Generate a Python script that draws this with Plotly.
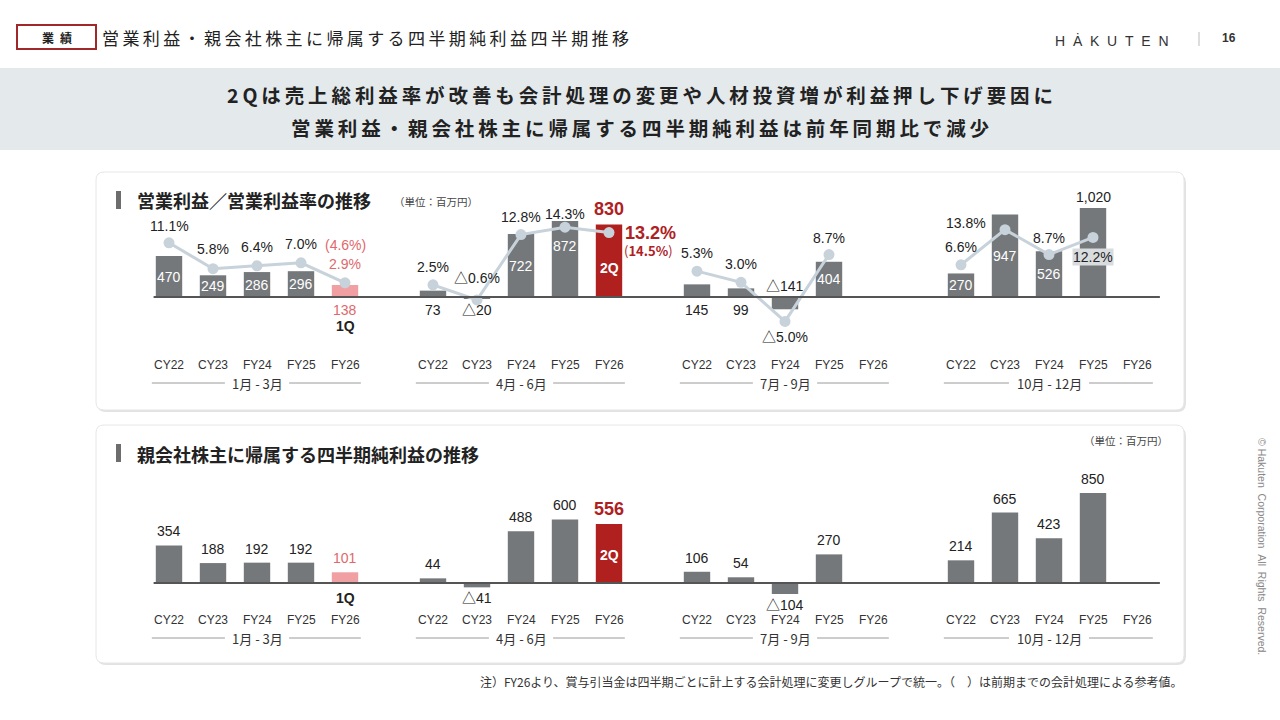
import plotly.graph_objects as go

W, H = 1280, 720

# ---- data (単位：百万円) ----
groups = ["1月 - 3月", "4月 - 6月", "7月 - 9月", "10月 - 12月"]
years = ["CY22", "CY23", "FY24", "FY25", "FY26"]

op_income = [470, 249, 286, 296, 138,
             73, -20, 722, 872, 830,
             145, 99, -141, 404, None,
             270, 947, 526, 1020, None]
op_margin = [11.1, 5.8, 6.4, 7.0, 2.9,
             2.5, -0.6, 12.8, 14.3, 13.2,
             5.3, 3.0, -5.0, 8.7, None,
             6.6, 13.8, 8.7, 12.2, None]
net_income = [354, 188, 192, 192, 101,
              44, -41, 488, 600, 556,
              106, 54, -104, 270, None,
              214, 665, 423, 850, None]
ref_margin_1q = 4.6   # previous accounting method, shown in ( )
ref_margin_2q = 14.5

JP = "Noto Sans CJK JP"
NUM = "Liberation Sans, Arial, Noto Sans CJK JP"
GRAY = "#75787b"
PINK = "#f0a0a2"
PINK_TXT = "#e0686c"
RED = "#b0201f"
LINE = "#c7d2db"
TXT = "#222222"

# bar positions: 5 bars per group, groups 6 slots apart
pos = [g * 6 + i for g in range(len(groups)) for i in range(len(years))]
bar_colors = [PINK if i == 4 else RED if i == 9 else GRAY for i in range(len(pos))]

# x axis: slot 0 at 169px, 44px per slot
X0, XS = 169, 44
x_range = [-X0 / XS, (W - X0) / XS]


def py(p):
    return 1 - p / H


def yrange(top_px, bot_px, zero_px, scale):
    return [-(bot_px - zero_px) / scale, (zero_px - top_px) / scale]


UP = (180, 345)
LO = (470, 625)


def fmt(v):
    return ("△" if v < 0 else "") + f"{abs(v):,}"


def fpct(v):
    return ("△" if v < 0 else "") + f"{abs(v):.1f}%"


def spaced(s, sp="\u2009"):
    return sp.join(s)


fig = go.Figure()

fig.add_trace(go.Bar(x=pos, y=op_income, width=0.6, marker=dict(color=bar_colors, line_width=0),
                     xaxis="x", yaxis="y", hoverinfo="skip"))

# margin line, one segment per quarter group
lx, ly = [], []
for g in range(len(groups)):
    for i in range(len(years)):
        k = g * 5 + i
        if op_margin[k] is not None:
            lx.append(pos[k])
            ly.append(op_margin[k])
    lx.append(None)
    ly.append(None)
fig.add_trace(go.Scatter(x=lx, y=ly, mode="lines+markers", connectgaps=False,
                         line=dict(color=LINE, width=3), marker=dict(color=LINE, size=11),
                         xaxis="x", yaxis="y2", hoverinfo="skip"))

fig.add_trace(go.Bar(x=pos, y=net_income, width=0.6, marker=dict(color=bar_colors, line_width=0),
                     xaxis="x", yaxis="y3", hoverinfo="skip"))

ann = []


def add(x, y, text, size=14, color=TXT, xref="x", yref="paper", xs=0, ys=0,
        anchor="center", family=NUM, bold=False, angle=0, bg=None):
    a = dict(x=x, y=y, xref=xref, yref=yref, text=text, showarrow=False,
             xanchor=anchor, yanchor="middle", xshift=xs, yshift=ys, textangle=angle,
             font=dict(size=size, color=color, family=family,
                       weight="bold" if bold else "normal"))
    if bg:
        a["bgcolor"] = bg
        a["borderpad"] = 0
    ann.append(a)


# ---- upper panel labels ----
op_lbl = ["in", "in", "in", "in", "below",
          "below", "below", "in", "in", "top",
          "below", "below", "above0", "in", None,
          "in", "in", "in", "top", None]
for k, v in enumerate(op_income):
    mode = op_lbl[k]
    if v is None or mode is None:
        continue
    if mode == "in":
        add(pos[k], v / 2, fmt(v), color="white", yref="y", ys=13 if k == 8 else 0)
    elif mode == "below":
        add(pos[k], 0, fmt(v), color=PINK_TXT if k == 4 else TXT, yref="y", ys=-13)
    elif mode == "above0":
        add(pos[k], 0, fmt(v), yref="y", ys=11)
    else:
        if k == 9:
            add(pos[k], v, fmt(v), size=18, color=RED, yref="y", ys=16, bold=True)
        else:
            add(pos[k], v, fmt(v), yref="y", ys=11)

add(pos[4], 0, "1Q", size=14, yref="y", ys=-29, bold=True)
add(pos[9], op_income[9] * 0.4, "2Q", size=14, color="white", yref="y", bold=True)

pct_off = [(0, 17), (0, 20), (0, 19), (0, 19), (0, 19),
           (0, 18), (0, 22), (0, 18), (0, 13), (41, 0),
           (0, 18), (0, 18), (0, -16), (0, 17), None,
           (0, 18), (-39, 7), (0, 17), (0, -20), None]
for k, v in enumerate(op_margin):
    if v is None:
        continue
    dx, dy = pct_off[k]
    if k == 4:
        add(pos[k], v, fpct(v), color=PINK_TXT, yref="y2", ys=dy)
        add(pos[k], v, f"({ref_margin_1q:.1f}%)", color=PINK_TXT, yref="y2", ys=dy + 19)
    elif k == 9:
        add(pos[k], v, fpct(v), size=18, color=RED, yref="y2", xs=dx, ys=dy, bold=True)
        add(pos[k], v, f"(<b>{ref_margin_2q:.1f}%</b>)", size=13, color=RED,
            yref="y2", xs=dx - 2, ys=dy - 18, family=JP)
    elif k == 18:
        add(pos[k], v, fpct(v), yref="y2", xs=dx, ys=dy, bg="#d9dcdf")
    else:
        add(pos[k], v, fpct(v), yref="y2", xs=dx, ys=dy)

# ---- lower panel labels ----
for k, v in enumerate(net_income):
    if v is None:
        continue
    if v < 0:
        add(pos[k], v, fmt(v), yref="y3", ys=-11)
    elif k == 9:
        add(pos[k], v, fmt(v), size=18, color=RED, yref="y3", ys=15, bold=True)
    else:
        add(pos[k], v, fmt(v), color=PINK_TXT if k == 4 else TXT, yref="y3", ys=14)
add(pos[4], 0, "1Q", size=14, yref="y3", ys=-15, bold=True)
add(pos[9], net_income[9] * 0.47, "2Q", size=14, color="white", yref="y3", bold=True)

# ---- category / group labels ----
shapes = []
for cat_y, grp_y in [(365, 383), (620, 638)]:
    for k, p in enumerate(pos):
        add(p, py(cat_y), years[k % 5], size=12, color="#333333")
    for g, name in enumerate(groups):
        c = g * 6 + 2
        hw = 0.91 if g == 3 else 0.73
        add(c, py(grp_y), name, size=13, color="#333333", family=JP)
        for xa, xb in [(g * 6 - 0.39, c - hw), (c + hw, g * 6 + 4.36)]:
            shapes.append(dict(type="line", xref="x", yref="paper", x0=xa, x1=xb,
                               y0=py(grp_y), y1=py(grp_y), line=dict(color="#9a9a9a", width=1)))

# baselines
for yr in ["y", "y3"]:
    shapes.append(dict(type="line", xref="x", yref=yr, x0=-0.35, x1=22.52, y0=0, y1=0,
                       line=dict(color="#555555", width=2), layer="above"))


def rrect(x0, y0, x1, y1, r):
    def P(x, y):
        return f"{x / W:.5f},{py(y):.5f}"
    return (f"M {P(x0 + r, y0)} L {P(x1 - r, y0)} Q {P(x1, y0)} {P(x1, y0 + r)} "
            f"L {P(x1, y1 - r)} Q {P(x1, y1)} {P(x1 - r, y1)} L {P(x0 + r, y1)} "
            f"Q {P(x0, y1)} {P(x0, y1 - r)} L {P(x0, y0 + r)} Q {P(x0, y0)} {P(x0 + r, y0)} Z")


bg_shapes = [
    dict(type="rect", xref="paper", yref="paper", x0=0, x1=1, y0=py(150), y1=py(68),
         fillcolor="#e4e9ec", line_width=0, layer="below"),
    dict(type="rect", xref="paper", yref="paper", x0=17 / W, x1=96 / W, y0=py(49), y1=py(25),
         fillcolor="white", line=dict(color="#a0282a", width=2), layer="below"),
    dict(type="line", xref="paper", yref="paper", x0=1199 / W, x1=1199 / W, y0=py(46), y1=py(32),
         line=dict(color="#bbbbbb", width=1), layer="below"),
]
for top, bot in [(172, 410), (425, 663)]:
    bg_shapes.append(dict(type="path", xref="paper", yref="paper", path=rrect(97, top + 2, 1186, bot + 2, 9),
                          fillcolor="#e2e2e2", line_width=0, layer="below"))
    bg_shapes.append(dict(type="path", xref="paper", yref="paper", path=rrect(96, top, 1184, bot, 8),
                          fillcolor="white", line=dict(color="#e6e6e6", width=1), layer="below"))
    bg_shapes.append(dict(type="rect", xref="paper", yref="paper", x0=116 / W, x1=121 / W,
                          y0=py(top + 37), y1=py(top + 19), fillcolor="#6d6d6d", line_width=0, layer="below"))

# ---- header / titles ----
add(57 / W, py(37), spaced("業績", "\u2002"), size=12, xref="paper", family=JP, bold=True)
add(100 / W, py(37), spaced("営業利益・親会社株主に帰属する四半期純利益四半期推移"), size=17,
    xref="paper", anchor="left", family=JP, color="#222222")
add(1112 / W, py(40), "H\u00a0\u00a0\u0226\u00a0\u00a0K\u00a0\u00a0U\u00a0\u00a0T\u00a0\u00a0E\u00a0\u00a0N",
    size=14, xref="paper", color="#333333", family="Liberation Sans")
add(1229 / W, py(38), "16", size=12, xref="paper", color="#333333", bold=True)
add(640 / W, py(95), spaced("2Qは売上総利益率が改善も会計処理の変更や人材投資増が利益押し下げ要因に"),
    size=19.5, xref="paper", family=JP, bold=True)
add(640 / W, py(127), spaced("営業利益・親会社株主に帰属する四半期純利益は前年同期比で減少"),
    size=19.5, xref="paper", family=JP, bold=True)
add(135 / W, py(200), "営業利益／営業利益率の推移", size=18, xref="paper", anchor="left", family=JP, bold=True)
add(392 / W, py(201), "（単位：百万円）", size=10.5, xref="paper", anchor="left", family=JP, color="#444444")
add(135 / W, py(454), "親会社株主に帰属する四半期純利益の推移", size=18, xref="paper", anchor="left",
    family=JP, bold=True)
add(1170 / W, py(440), "（単位：百万円）", size=10.5, xref="paper", anchor="right", family=JP, color="#444444")
add(1185 / W, py(681), "注）FY26より、賞与引当金は四半期ごとに計上する会計処理に変更しグループで統一。（　）は前期までの会計処理による参考値。",
    size=12, xref="paper", anchor="right", family=JP, color="#333333")
add(1262 / W, py(546), "©\u00a0Hakuten\u00a0\u00a0Corporation\u00a0\u00a0All\u00a0\u00a0Rights\u00a0\u00a0Reserved.",
    size=10.5, xref="paper", color="#888888", family="Liberation Sans", angle=90)

ax_off = dict(visible=False, showgrid=False, zeroline=False, fixedrange=True)
fig.update_layout(
    width=W, height=H,
    margin=dict(l=0, r=0, t=0, b=0),
    paper_bgcolor="white", plot_bgcolor="rgba(0,0,0,0)",
    showlegend=False, barmode="overlay",
    xaxis=dict(range=x_range, domain=[0, 1], **ax_off),
    yaxis=dict(domain=[py(UP[1]), py(UP[0])], range=yrange(UP[0], UP[1], 297, 0.0872), **ax_off),
    yaxis2=dict(overlaying="y", range=yrange(UP[0], UP[1], 297, 4.88), **ax_off),
    yaxis3=dict(domain=[py(LO[1]), py(LO[0])], range=yrange(LO[0], LO[1], 583, 0.106),
                anchor="x", **ax_off),
    shapes=bg_shapes + shapes,
    annotations=ann,
)

# page body has a default 8px margin; remove it so the figure sits at the window origin
fig.write_html("out.html", config={"displayModeBar": False},
               post_script="document.body.style.margin='0';document.body.style.overflow='hidden';")
